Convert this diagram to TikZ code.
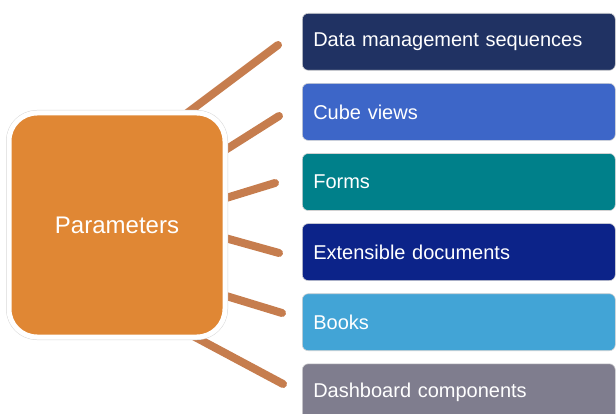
\documentclass[tikz,border=0pt]{standalone}
\usepackage{fontspec}
\setmainfont{Liberation Sans}
\usetikzlibrary{positioning}

\definecolor{paramorange}{HTML}{E08734}
\definecolor{spokebrown}{HTML}{C67D4E}
\definecolor{dmsblue}{HTML}{203263}
\definecolor{cubeblue}{HTML}{3D66C8}
\definecolor{formsteal}{HTML}{00808A}
\definecolor{extblue}{HTML}{0C2389}
\definecolor{bookblue}{HTML}{42A4D6}
\definecolor{dashgray}{HTML}{7F7D8E}

\begin{document}
\begin{tikzpicture}[
    x=1pt, y=-1pt,
    node distance=12.5pt,
    item/.style={rectangle, rounded corners=6pt, draw=gray!35, line width=0.6pt, text=white,
        minimum height=57pt, text width=291pt, inner xsep=11pt, align=left,
        font=\fontsize{20}{24}\selectfont},
    spoke/.style={line width=8pt, line cap=round, spokebrown},
    center/.style={rectangle, rounded corners=28pt, fill=paramorange, draw=white, line width=5pt,
        preaction={draw=gray!30, line width=6pt},
        minimum width=216pt, minimum height=224pt, text=white, font=\fontsize{24}{28}\selectfont}
]
\useasboundingbox (0,0) rectangle (616,414);

% spokes (behind the centre box)
\coordinate (a1) at (170,126); \coordinate (b1) at (278,45);
\coordinate (a2) at (200,166); \coordinate (b2) at (279,116);
\coordinate (a3) at (200,206); \coordinate (b3) at (275,183);
\coordinate (a4) at (200,231); \coordinate (b4) at (279,253);
\coordinate (a5) at (200,288); \coordinate (b5) at (282,313);
\coordinate (a6) at (180,329); \coordinate (b6) at (283,384);
\draw[spoke] (a1) -- (b1);
\draw[spoke] (a2) -- (b2);
\draw[spoke] (a3) -- (b3);
\draw[spoke] (a4) -- (b4);
\draw[spoke] (a5) -- (b5);
\draw[spoke] (a6) -- (b6);

\node[center] (params) at (117,225) {Parameters};

\node[item, fill=dmsblue, anchor=north west] (dms) at (302,13) {Data management sequences};
\node[item, fill=cubeblue, below=of dms] (cube) {Cube views};
\node[item, fill=formsteal, below=of cube] (forms) {Forms};
\node[item, fill=extblue, below=of forms] (extdoc) {Extensible documents};
\node[item, fill=bookblue, below=of extdoc] (books) {Books};
\node[item, fill=dashgray, below=of books] (dash) {Dashboard components};

\end{tikzpicture}
\end{document}
